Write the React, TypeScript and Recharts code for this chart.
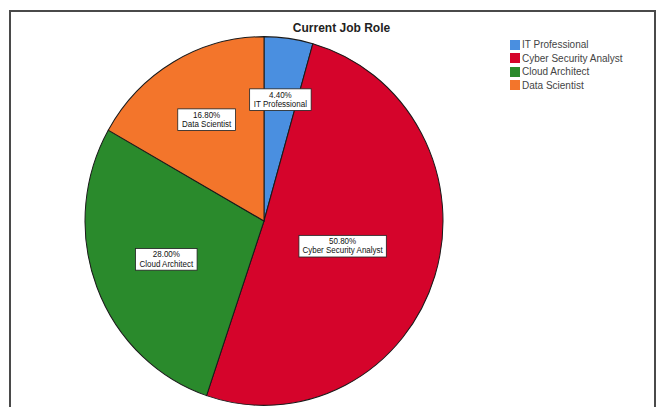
import { PieChart, Pie, Cell, Legend } from "recharts";

const roles = ["IT Professional", "Cyber Security Analyst", "Cloud Architect", "Data Scientist"];
const counts = [11, 127, 70, 42];
const colors = ["#4a8fe0", "#d5042b", "#2a8a2c", "#f3752b"];

const data = roles.map((name, i) => ({ name, value: counts[i] }));

const FONT = "'Liberation Sans Narrow', 'Liberation Sans', Arial, sans-serif";
const RAD = Math.PI / 180;

// label sits on the sector's centroid, like the original
function SliceLabel(props: any) {
  const { cx, cy, midAngle, outerRadius, percent, name } = props;
  const theta = percent * 2 * Math.PI;
  const frac = Math.min(0.68, Math.max(0.46, (2 * Math.sin(theta / 2)) / (1.5 * theta)));
  const r = outerRadius * frac;
  const x = cx + r * Math.cos(-midAngle * RAD);
  const y = cy + r * Math.sin(-midAngle * RAD);
  const pct = (percent * 100).toFixed(2) + "%";
  const w = Math.max(name.length, pct.length) * 3.7 + 6;
  const h = 21;
  return (
    <g>
      <rect x={x - w / 2} y={y - h / 2} width={w} height={h} fill="#fff" stroke="#222" strokeWidth={0.8} />
      <text x={x} y={y - 2} textAnchor="middle" fontSize={8} fontFamily={FONT} fill="#111">
        {pct}
      </text>
      <text x={x} y={y + 7} textAnchor="middle" fontSize={8} fontFamily={FONT} fill="#111">
        {name}
      </text>
    </g>
  );
}

function RoleLegend() {
  return (
    <div style={{ fontFamily: FONT, fontSize: 10, color: "#444" }}>
      {roles.map((r, i) => (
        <div key={r} style={{ display: "flex", alignItems: "center", height: 13.5 }}>
          <span style={{ width: 10, height: 10, background: colors[i], marginRight: 2, display: "inline-block" }} />
          <span>{r}</span>
        </div>
      ))}
    </div>
  );
}

export default function App() {
  return (
    <div style={{ position: "absolute", left: 0, top: 0, width: 663, height: 407, background: "#fff", overflow: "hidden" }}>
      <div
        style={{
          position: "absolute",
          left: 9,
          top: 10,
          width: 647,
          height: 420,
          border: "2px solid #4a4a4a",
          boxSizing: "border-box",
        }}
      />
      <div
        style={{
          position: "absolute",
          left: 0,
          width: 663,
          top: 21,
          textAlign: "center",
          fontFamily: "'Liberation Sans', Arial, sans-serif",
          fontWeight: "bold",
          fontSize: 12,
          color: "#222",
          paddingLeft: 20,
          boxSizing: "border-box",
        }}
      >
        Current Job Role
      </div>
      <div style={{ position: "absolute", left: 0, top: 0, transform: "scaleY(1.03)", transformOrigin: "0 221px" }}>
        <PieChart width={663} height={430} margin={{ top: 0, right: 0, bottom: 0, left: 0 }}>
          <Pie
            data={data}
            dataKey="value"
            nameKey="name"
            cx={264}
            cy={221}
            outerRadius={179}
            startAngle={90}
            endAngle={-270}
            stroke="#1a1a1a"
            strokeWidth={1}
            label={SliceLabel}
            labelLine={false}
            isAnimationActive={false}
          >
            {data.map((d, i) => (
              <Cell key={d.name} fill={colors[i]} />
            ))}
          </Pie>
        </PieChart>
      </div>
      <div style={{ position: "absolute", left: 510, top: 38, width: 140 }}>
        <RoleLegend />
      </div>
    </div>
  );
}
